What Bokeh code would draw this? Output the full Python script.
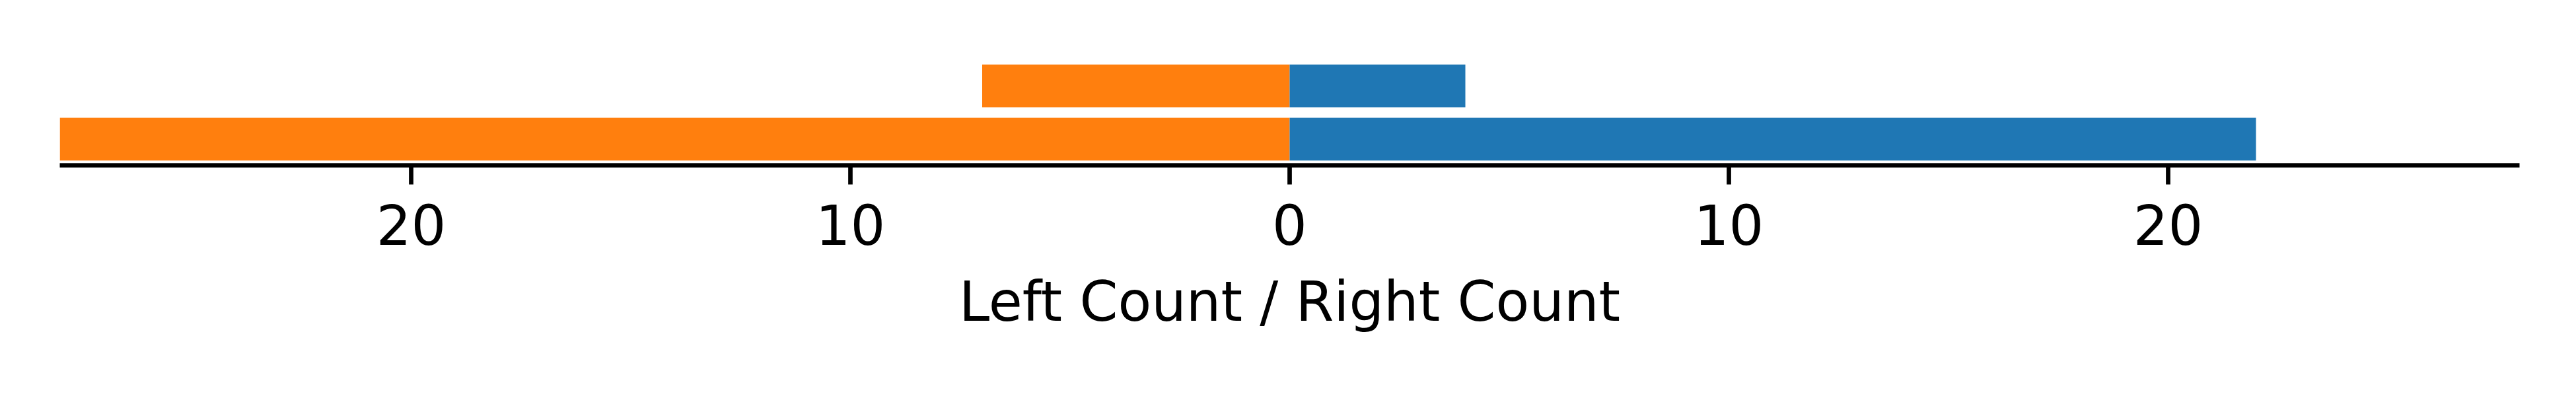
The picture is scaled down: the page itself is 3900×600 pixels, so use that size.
from bokeh.plotting import figure
from bokeh.models import Range1d, FixedTicker, ColumnDataSource
from bokeh.embed import file_html
from bokeh.resources import INLINE

rows = [0, 1]
left_counts = [28, 7]
right_counts = [22, 4]
tick_values = [-20, -10, 0, 10, 20]
tick_labels = ["20", "10", "0", "10", "20"]

src = ColumnDataSource(dict(
    y=rows,
    neg_left=[-v for v in left_counts],
    zero=[0] * len(rows),
    right=right_counts,
))

p = figure(width=3874, height=584, output_backend="svg", toolbar_location=None,
           x_range=Range1d(-28, 28), y_range=Range1d(-0.49, 1.49),
           min_border_left=90, min_border_right=60, min_border_top=90, min_border_bottom=334)

p.hbar(y="y", left="neg_left", right="zero", height=0.8, source=src,
       fill_color="#ff7f0e", line_color=None)
p.hbar(y="y", left="zero", right="right", height=0.8, source=src,
       fill_color="#1f77b4", line_color=None)

p.yaxis.visible = False
p.xgrid.visible = False
p.ygrid.visible = False
p.outline_line_color = None

ax = p.xaxis[0]
ax.ticker = FixedTicker(ticks=tick_values)
ax.major_label_overrides = {v: l for v, l in zip(tick_values, tick_labels)}
ax.minor_tick_line_color = None
ax.axis_line_width = 6.7
ax.axis_line_color = "black"
ax.major_tick_line_width = 6.7
ax.major_tick_line_color = "black"
ax.major_tick_out = 29
ax.major_tick_in = 0
ax.major_label_standoff = 29
ax.major_label_text_font = "DejaVu Sans"
ax.major_label_text_font_size = "83px"
ax.major_label_text_color = "black"
ax.axis_label = "Left Count / Right Count"
ax.axis_label_text_font = "DejaVu Sans"
ax.axis_label_text_font_size = "83px"
ax.axis_label_text_font_style = "normal"
ax.axis_label_text_color = "black"
ax.axis_label_standoff = 35

open("out.html", "w").write(file_html(p, INLINE))
